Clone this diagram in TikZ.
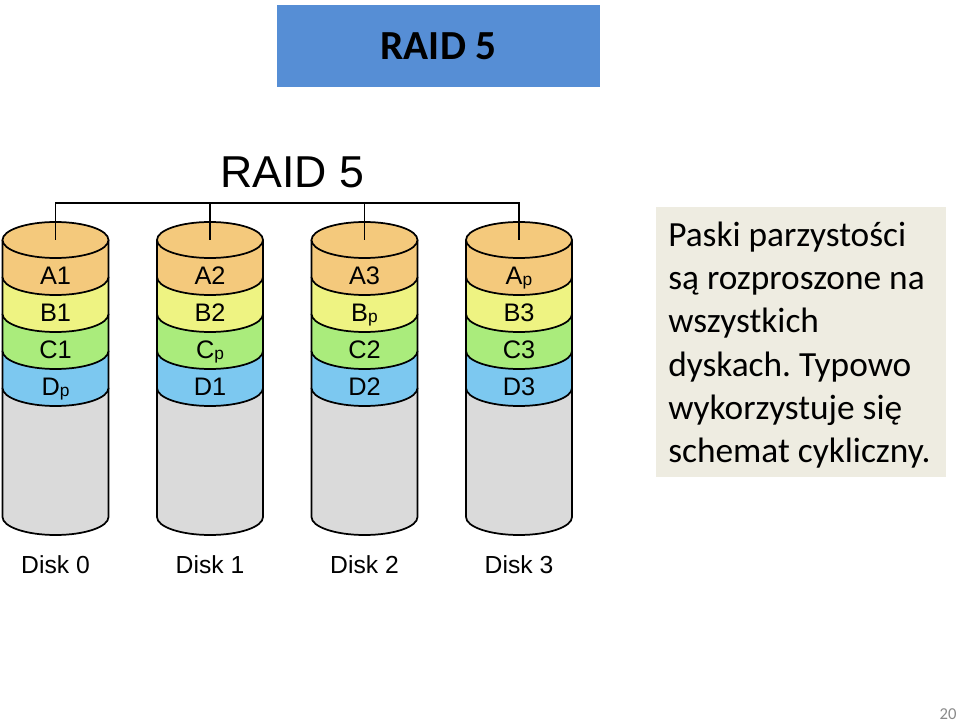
\documentclass[tikz,border=0pt]{standalone}
\usepackage{fontspec}
\setmainfont{Carlito}
\newfontfamily\arialfont{Liberation Sans}
\definecolor{titleblue}{RGB}{86,142,213}
\definecolor{notegray}{RGB}{238,236,225}
\definecolor{bandA}{RGB}{244,201,124}
\definecolor{bandB}{RGB}{238,243,130}
\definecolor{bandC}{RGB}{170,236,124}
\definecolor{bandD}{RGB}{124,200,240}
\definecolor{diskgray}{RGB}{218,218,218}
\newcommand\psub{\raisebox{-1pt}{\fontsize{13}{13}\selectfont p}}
\frenchspacing
\begin{document}
\begin{tikzpicture}[x=0.75pt,y=-0.75pt]
\tikzstyle{rim} = [line width=1.3pt, black]
\tikzstyle{blocklabel} = [anchor=base, font=\arialfont\fontsize{19}{22}\selectfont]
\useasboundingbox (0,0) rectangle (960,723);
\node (title) [rectangle, fill=titleblue, minimum width=242pt, minimum height=61.5pt, font=\bfseries\fontsize{31}{36}\selectfont] at (438.5,46) {RAID 5};
\node (raid) [font=\arialfont\fontsize{33.5}{40}\selectfont] at (292,172) {RAID 5};
% the four disks, bands drawn from the bottom up
\foreach \cx/\n/\a/\b/\c/\d in {55.5/0/A1/B1/C1/D\psub, 210/1/A2/B2/C\psub/D1, 364.5/2/A3/B\psub/C2/D2, 519/3/A\psub/B3/C3/D3} {
  \fill[diskgray] (\cx-53,388) -- (\cx-53,517) arc[start angle=180, end angle=0, x radius=53, y radius=18] -- (\cx+53,388) -- cycle;
  \draw[rim] (\cx-53,388) -- (\cx-53,517) arc[start angle=180, end angle=0, x radius=53, y radius=18] -- (\cx+53,388);
  \foreach \yt/\yb/\col in {351/388/bandD, 314/351/bandC, 277/314/bandB, 240/277/bandA} {
    \fill[\col] (\cx-53,\yt) -- (\cx-53,\yb) arc[start angle=180, end angle=0, x radius=53, y radius=18] -- (\cx+53,\yt) -- cycle;
    \draw[rim] (\cx-53,\yt) -- (\cx-53,\yb) arc[start angle=180, end angle=0, x radius=53, y radius=18] -- (\cx+53,\yt);
  }
  \draw[rim, fill=bandA] (\cx,240) ellipse [x radius=53, y radius=18];
  \node (a\n) [blocklabel] at (\cx,284.5) {\a};
  \node (b\n) [blocklabel] at (\cx,321.5) {\b};
  \node (c\n) [blocklabel] at (\cx,358.5) {\c};
  \node (d\n) [blocklabel] at (\cx,395.5) {\d};
  \node (disk\n) [font=\arialfont\fontsize{18.5}{22}\selectfont] at (\cx,565) {Disk \n};
  \coordinate (top\n) at (\cx,240);
  \coordinate (bus\n) at (\cx,203);
}
\draw[rim] (top0) -- (bus0) -- (bus3) -- (top3);
\draw[rim] (bus1) -- (top1);
\draw[rim] (bus2) -- (top2);
\node (note) [rectangle, fill=notegray, minimum width=217.5pt, minimum height=202.5pt] at (801,342) {};
\node (notetext) [anchor=west, inner sep=0pt, align=left, font=\fontsize{26.5}{32.5}\selectfont] at (668,345) {Paski parzystości\\są rozproszone na\\wszystkich\\dyskach. Typowo\\wykorzystuje się\\schemat cykliczny.};
\node (page) [text=black!46, font=\fontsize{12.5}{14}\selectfont] at (948,714) {20};
\end{tikzpicture}
\end{document}
